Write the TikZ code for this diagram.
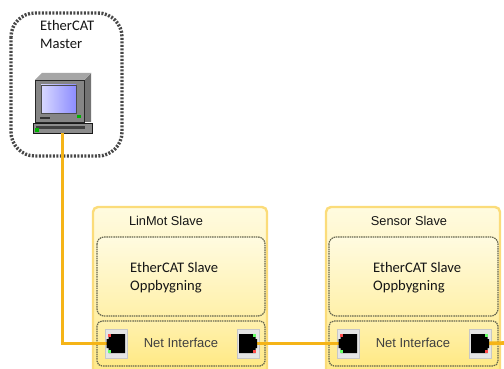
\documentclass[tikz,border=0pt]{standalone}
\usepackage{fontspec}
\setmainfont{Carlito}
\newfontfamily\labelfont{Liberation Sans}
\usetikzlibrary{positioning,calc}
\definecolor{wire}{HTML}{F5B417}
\definecolor{slaveedge}{HTML}{FBDC7A}
\definecolor{slavetop}{HTML}{FFFBE0}
\definecolor{slavebot}{HTML}{FFE985}
\definecolor{dash}{HTML}{66664E}
\definecolor{ink}{HTML}{151515}
\tikzset{
  wireline/.style={draw=wire,line width=3.6pt},
  masterbox/.style={draw=black!72,line width=3.4pt,dash pattern=on 2pt off 1.5pt,rounded corners=24pt,fill=white},
  slavebox/.style={draw=slaveedge,line width=2.4pt,rounded corners=5pt,top color=slavetop,bottom color=slavebot},
  innerbox/.style={draw=dash,line width=1.2pt,dash pattern=on 1.5pt off .8pt,rounded corners=7pt,top color=slavetop,bottom color=slavebot!60!slavetop},
  netbox/.style={draw=dash,line width=1.2pt,dash pattern=on 1.5pt off .8pt,rounded corners=5pt,top color=slavebot!55!slavetop,bottom color=slavebot},
  portbox/.style={draw=black!22,line width=1pt,fill=white!90!black,minimum width=22pt,minimum height=29pt,inner sep=0pt},
  txt/.style={font=\fontsize{14.6}{17.8}\selectfont,text=ink,align=left,inner sep=0pt,anchor=north west},
  lbl/.style={font=\labelfont\fontsize{12.8}{15}\selectfont,text=ink,inner sep=0pt},
  netlbl/.style={font=\labelfont\fontsize{13}{15}\selectfont,text=black!75,inner sep=0pt},
}
\begin{document}
\begin{tikzpicture}[x=1pt,y=-1pt]
\useasboundingbox (0,0) rectangle (504,369);
\clip (0,0) rectangle (504,369);
% master
\path[masterbox] (11,13) rectangle (122,156);
\node[txt] (mastertext) at (40,20) {EtherCAT\\Master};
% slave 1
\path[slavebox] (93,207) rectangle (267,380);
\path[innerbox] (97,237) rectangle (265,316);
\path[netbox] (97,321) rectangle (265,366);
\node[lbl] (s1title) at (166,220.5) {LinMot Slave};
\node[txt] (s1text) at (130,262) {EtherCAT Slave\\Oppbygning};
\node[netlbl] (s1net) at (181,343) {Net Interface};
% slave 2
\path[slavebox] (326,207) rectangle (500,380);
\path[innerbox] (329,237) rectangle (498,316);
\path[netbox] (329,321) rectangle (498,366);
\node[lbl] (s2title) at (409,220.5) {Sensor Slave};
\node[txt] (s2text) at (373,262) {EtherCAT Slave\\Oppbygning};
\node[netlbl] (s2net) at (413,343) {Net Interface};
% computer
\node[inner sep=0pt,minimum width=59pt,minimum height=61pt] (pc) at (62.5,102.5) {};
\fill[black!55] (84,80) -- (91,73) -- (91,122) -- (84,122) -- cycle;
\fill[black!35] (35,80) -- (42,73) -- (91,73) -- (84,80) -- cycle;
\filldraw[fill=black!48,draw=black!85,line width=.8pt] (35,80) rectangle (84,122);
\shade[left color=white!85!blue,right color=blue!45!white,draw=black!70,line width=.8pt] (41,85) rectangle (76,113);
\fill[green!70!black] (77,115) rectangle (81,118);
\fill[black!80] (40,117) rectangle (50,119);
\filldraw[fill=black!45,draw=black!90,line width=.9pt] (33,123) rectangle (92,133);
\fill[black!75] (36,126) rectangle (85,129);
\fill[green!70!black] (35,128) rectangle (39,132);
% ports
\node[portbox] (p1a) at (116,343.5) {};
\node[portbox] (p1b) at (248,343.5) {};
\node[portbox] (p2a) at (348,343.5) {};
\node[portbox] (p2b) at (480,343.5) {};
\coordinate (out) at (504,343);
% wires
\draw[wireline] (pc.south) -- (pc.south |- p1a.west) -- (p1a.center);
\draw[wireline] (p1b.center) -- (p2a.center);
\draw[wireline] (p2b.center) -- (out);
% port faces
\fill[black] (108.5,334) rectangle (125,353) (106.5,339) rectangle (110,348);
\fill[black] (239,334) rectangle (255.5,353) (254,339) rectangle (257,348);
\fill[black] (340.5,334) rectangle (357,353) (338.5,339) rectangle (342,348);
\fill[black] (471,334) rectangle (487.5,353) (486,339) rectangle (489,348);
\fill[red!70] (108,334) rectangle (111,337);
\fill[green!60] (108,350) rectangle (111,353);
\fill[green!60] (253,334) rectangle (256,337);
\fill[red!70] (253,350) rectangle (256,353);
\fill[red!70] (340,334) rectangle (343,337);
\fill[green!60] (340,350) rectangle (343,353);
\fill[green!60] (485,334) rectangle (488,337);
\fill[red!70] (485,350) rectangle (488,353);
\end{tikzpicture}
\end{document}
